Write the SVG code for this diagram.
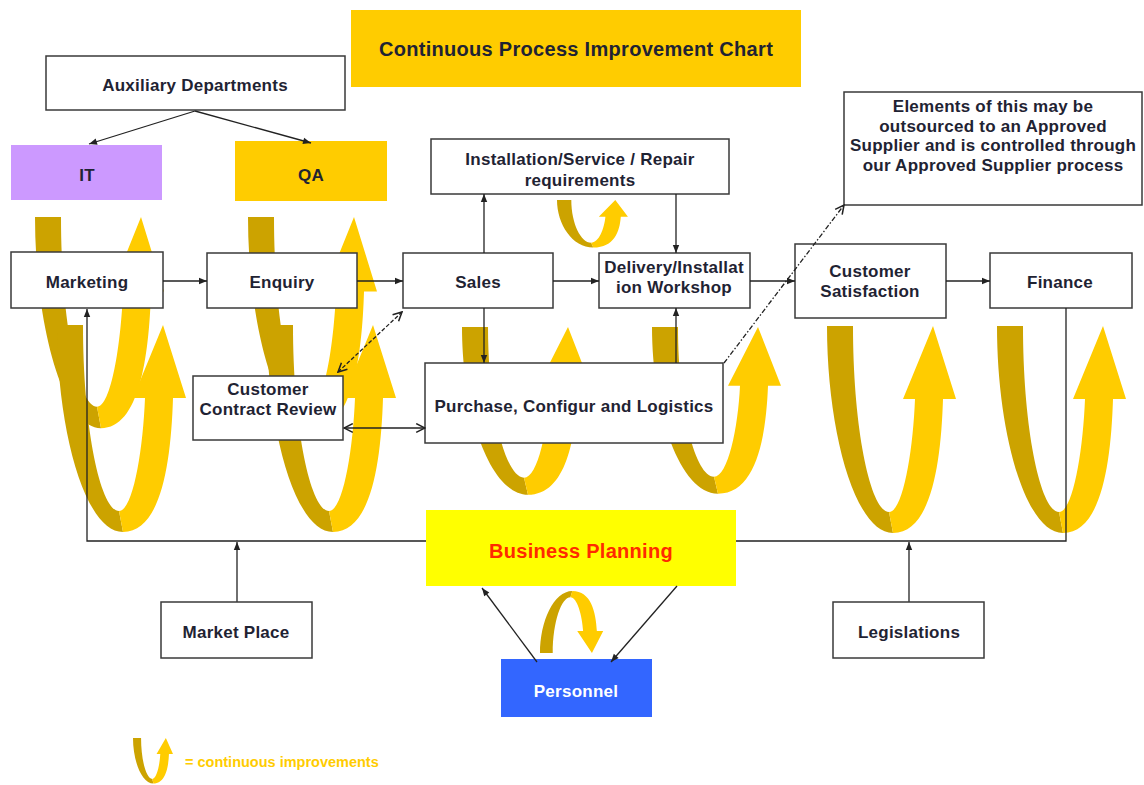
<svg xmlns="http://www.w3.org/2000/svg" xmlns:xlink="http://www.w3.org/1999/xlink" width="1144" height="785" viewBox="0 0 1144 785">
  <style>
    .box { fill: #ffffff; stroke: #3a3a3a; stroke-width: 1.5; }
    .lbl { font-family: "Liberation Sans", Arial, sans-serif; font-weight: bold; font-size: 17px; letter-spacing: 0.25px; fill: #1f2333; text-anchor: middle; }
    .big { font-size: 20px; letter-spacing: 0.3px; }
    .wire { fill: none; stroke: #222222; stroke-width: 1.3; }
    .dark { fill: #CCA300; }
    .gold { fill: #FFCC00; }
  </style>
  <defs>
    <!-- improvement loop: dark descending arm, gold rising arm with arrowhead -->
    <g id="loop">
      <path class="dark" d="M0,0 H26 C26,105 44,186 62,186 L66,207 C28,207 0,105 0,0 Z"/>
      <path class="gold" d="M62,186 C76,186 86,125 88,73 H76 L106,0 L129,73 H116 C114,138 104,207 66,207 Z"/>
    </g>
    <marker id="ah" viewBox="0 0 10 10" refX="10" refY="5" markerWidth="9" markerHeight="8" markerUnits="userSpaceOnUse" orient="auto-start-reverse">
      <path d="M0,1 L10,5 L0,9 Z" fill="#222222"/>
    </marker>
    <marker id="open" viewBox="0 0 10 10" refX="9" refY="5" markerWidth="11" markerHeight="11" markerUnits="userSpaceOnUse" orient="auto-start-reverse">
      <path d="M1,1 L9,5 L1,9" fill="none" stroke="#222222" stroke-width="1.4"/>
    </marker>
  </defs>

  <rect width="1144" height="785" fill="#ffffff"/>

  <!-- improvement loops -->
  <g id="loops">
    <use xlink:href="#loop" transform="translate(35,217) scale(1,1.02)"/>
    <use xlink:href="#loop" transform="translate(57,325)"/>
    <use xlink:href="#loop" transform="translate(248,217) scale(1,1.02)"/>
    <use xlink:href="#loop" transform="translate(267,325)"/>
    <use xlink:href="#loop" transform="translate(462,327) scale(1,0.81)"/>
    <use xlink:href="#loop" transform="translate(652,327) scale(1,0.805)"/>
    <use xlink:href="#loop" transform="translate(827,326)"/>
    <use xlink:href="#loop" transform="translate(997,326)"/>
    <use xlink:href="#loop" transform="translate(557,200) scale(0.55,0.23)"/>
    <use xlink:href="#loop" transform="translate(540,653) scale(0.49,-0.3)"/>
  </g>

  <!-- title -->
  <g id="title">
    <rect x="351" y="10" width="450" height="77" fill="#FFCC00"/>
    <text class="lbl big" x="576" y="56">Continuous Process Improvement Chart</text>
  </g>

  <g id="auxiliary">
    <rect class="box" x="46" y="56" width="299" height="54"/>
    <text class="lbl" x="195" y="91">Auxiliary Departments</text>
  </g>
  <g id="it">
    <rect x="11" y="145" width="151" height="55" fill="#CC99FF"/>
    <text class="lbl" x="87" y="181">IT</text>
  </g>
  <g id="qa">
    <rect x="235" y="141" width="152" height="60" fill="#FFCC00"/>
    <text class="lbl" x="311" y="181">QA</text>
  </g>
  <g id="installation">
    <rect class="box" x="431" y="139" width="298" height="55"/>
    <text class="lbl" x="580" y="165">Installation/Service / Repair</text>
    <text class="lbl" x="580" y="186">requirements</text>
  </g>
  <g id="supplier-note">
    <rect class="box" x="844" y="92" width="298" height="113"/>
    <text class="lbl" x="993" y="112">Elements of this may be</text>
    <text class="lbl" x="993" y="132">outsourced to an Approved</text>
    <text class="lbl" x="993" y="151">Supplier and is controlled through</text>
    <text class="lbl" x="993" y="171">our Approved Supplier process</text>
  </g>
  <g id="marketing">
    <rect class="box" x="11" y="252" width="152" height="56"/>
    <text class="lbl" x="87" y="288">Marketing</text>
  </g>
  <g id="enquiry">
    <rect class="box" x="207" y="253" width="150" height="55"/>
    <text class="lbl" x="282" y="288">Enquiry</text>
  </g>
  <g id="sales">
    <rect class="box" x="403" y="253" width="150" height="55"/>
    <text class="lbl" x="478" y="288">Sales</text>
  </g>
  <g id="delivery">
    <rect class="box" x="599" y="253" width="151" height="55"/>
    <text class="lbl" x="674" y="273">Delivery/Installat</text>
    <text class="lbl" x="674" y="293">ion Workshop</text>
  </g>
  <g id="customer-satisfaction">
    <rect class="box" x="795" y="244" width="151" height="74"/>
    <text class="lbl" x="870" y="277">Customer</text>
    <text class="lbl" x="870" y="297">Satisfaction</text>
  </g>
  <g id="finance">
    <rect class="box" x="990" y="253" width="142" height="55"/>
    <text class="lbl" x="1060" y="288">Finance</text>
  </g>
  <g id="contract-review">
    <rect class="box" x="193" y="376" width="150" height="64"/>
    <text class="lbl" x="268" y="395">Customer</text>
    <text class="lbl" x="268" y="415">Contract Review</text>
  </g>
  <g id="purchase">
    <rect class="box" x="425" y="363" width="298" height="80"/>
    <text class="lbl" x="574" y="412">Purchase, Configur and Logistics</text>
  </g>

  <!-- connectors -->
  <g id="connectors">
    <line class="wire" x1="195" y1="111" x2="89" y2="144" marker-end="url(#ah)"/>
    <line class="wire" x1="195" y1="111" x2="311" y2="143" marker-end="url(#ah)"/>
    <line class="wire" x1="163" y1="281" x2="207" y2="281" marker-end="url(#ah)"/>
    <line class="wire" x1="357" y1="281" x2="403" y2="281" marker-end="url(#ah)"/>
    <line class="wire" x1="553" y1="281" x2="599" y2="281" marker-end="url(#ah)"/>
    <line class="wire" x1="750" y1="281" x2="795" y2="281" marker-end="url(#ah)"/>
    <line class="wire" x1="946" y1="281" x2="990" y2="281" marker-end="url(#ah)"/>
    <line class="wire" x1="484" y1="253" x2="484" y2="194" marker-end="url(#ah)"/>
    <line class="wire" x1="676" y1="194" x2="676" y2="253" marker-end="url(#ah)"/>
    <line class="wire" x1="484" y1="308" x2="484" y2="363" marker-end="url(#ah)"/>
    <line class="wire" x1="676" y1="363" x2="676" y2="308" marker-end="url(#ah)"/>
    <line class="wire" x1="338" y1="372" x2="402" y2="312" stroke-dasharray="4 2" marker-start="url(#open)" marker-end="url(#open)"/>
    <line class="wire" x1="344" y1="428" x2="425" y2="428" stroke-width="1.6" marker-start="url(#open)" marker-end="url(#open)"/>
    <line class="wire" x1="724" y1="363" x2="844" y2="205" stroke="#555555" stroke-width="1" stroke-dasharray="5 2 1.5 2" marker-end="url(#open)"/>
    <!-- planning feedback bus -->
    <polyline class="wire" points="1066,308 1066,541 87,541 87,309" marker-end="url(#ah)"/>
    <line class="wire" x1="237" y1="602" x2="237" y2="542" marker-end="url(#ah)"/>
    <line class="wire" x1="909" y1="602" x2="909" y2="542" marker-end="url(#ah)"/>
  </g>

  <g id="business-planning">
    <rect x="426" y="510" width="310" height="76" fill="#FFFF00"/>
    <text class="lbl big" x="581" y="558" fill="#FF2A00" style="fill:#FF2A00">Business Planning</text>
  </g>
  <g id="market-place">
    <rect class="box" x="161" y="602" width="151" height="56"/>
    <text class="lbl" x="236" y="638">Market Place</text>
  </g>
  <g id="legislations">
    <rect class="box" x="833" y="602" width="151" height="56"/>
    <text class="lbl" x="909" y="638">Legislations</text>
  </g>
  <g id="personnel">
    <rect x="501" y="659" width="151" height="58" fill="#3366FF"/>
    <text class="lbl" x="576" y="697" style="fill:#ffffff">Personnel</text>
  </g>

  <g id="planning-links">
    <line class="wire" x1="537" y1="662" x2="482" y2="588" stroke-width="1.1" marker-end="url(#ah)"/>
    <line class="wire" x1="677" y1="586" x2="611" y2="662" stroke-width="1.1" marker-end="url(#ah)"/>
  </g>

  <!-- key -->
  <g id="legend">
    <use xlink:href="#loop" transform="translate(133,738) scale(0.31,0.22)"/>
    <text x="185" y="767" font-family="Liberation Sans, Arial, sans-serif" font-weight="bold" font-size="14.5" fill="#FFCC00">= continuous improvements</text>
  </g>
</svg>
